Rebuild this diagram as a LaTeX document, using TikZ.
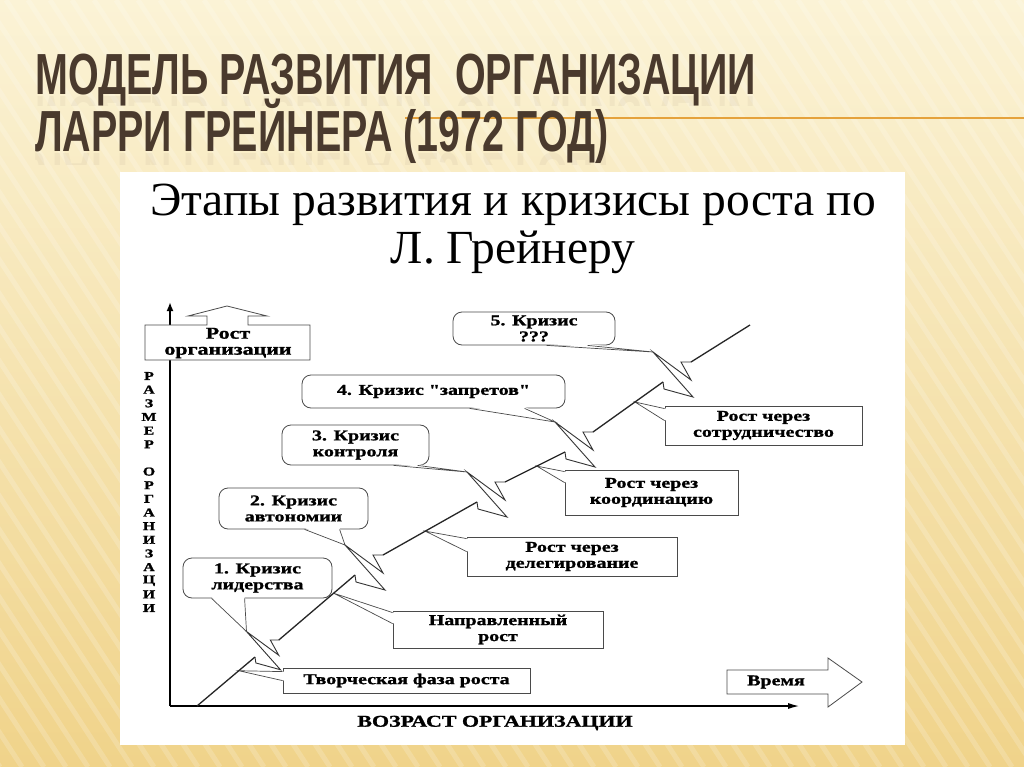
\documentclass[tikz,border=0pt]{standalone}
\usepackage{fontspec}
\usetikzlibrary{calc,arrows.meta}
\newfontfamily\ttl{Liberation Sans}[FakeStretch=0.68]
\newfontfamily\srf{Liberation Serif}
\newfontfamily\bx{Liberation Serif}[FakeStretch=1.33,BoldFeatures={FakeBold=1.2}]
\definecolor{titlecol}{HTML}{4A3A2D}
\definecolor{orangeline}{HTML}{E5A23C}
\definecolor{bgtop}{HTML}{FBF3D6}
\definecolor{bgmid}{HTML}{F8E8B9}
\definecolor{bgbot}{HTML}{F0D38A}
\definecolor{boxline}{HTML}{4A4A4A}
\tikzset{
  bolt/.pic={
    \draw[boltline] (0,0) -- (1,7) -- (30,15) -- (-10,-30) -- (28,-2) -- (18,-20) -- (28,-20);
    \coordinate (-U) at (28,-20);
    \coordinate (-B) at (-10,-30);
  }
}
\begin{document}
\begin{tikzpicture}[x=1pt,y=-1pt,
  ttlstyle/.style={font=\ttl\bfseries\fontsize{58}{60}\selectfont, text=titlecol, inner sep=0pt},
  phase/.style={draw=boxline, line width=0.8pt, fill=white, inner sep=0pt, align=center, font=\bx\bfseries\fontsize{15}{16}\selectfont},
  crisis/.style={phase, rounded corners=9pt},
  growth/.style={line width=1.3pt, black!85},
  boltline/.style={line width=0.9pt, black!80, line join=miter},
  ptr/.style={line width=0.7pt, boxline},
  axis/.style={line width=1.8pt, black},
  lbl/.style={font=\bx\bfseries\fontsize{15}{16}\selectfont, inner sep=0pt},
  vlbl/.style={font=\bx\bfseries\fontsize{12}{12}\selectfont, inner sep=0pt}
]
\useasboundingbox (0,0) rectangle (1024,767);
% background
\shade[top color=bgtop, middle color=bgmid, bottom color=bgbot] (0,0) rectangle (1024,767);
\begin{scope}
\clip (0,0) rectangle (1024,767);
\foreach \k in {0,...,75}
  \draw[white, opacity=0.18, line width=5pt] ({-500+\k*22},0) -- ++(500,767);
\end{scope}
% title
\draw[orangeline, line width=2.5pt] (405,118) -- (1024,118);
\begin{scope}
\clip (0,96) rectangle (1024,106);
\node[ttlstyle, anchor=base west, opacity=0.05, yscale=-1, transform shape] (t1r) at (35,97) {МОДЕЛЬ РАЗВИТИЯ\ \ ОРГАНИЗАЦИИ};
\end{scope}
\begin{scope}
\clip (0,153) rectangle (1024,165);
\node[ttlstyle, anchor=base west, opacity=0.05, yscale=-1, transform shape] (t2r) at (35,154) {ЛАРРИ ГРЕЙНЕРА (1972 ГОД)};
\end{scope}
\node[ttlstyle, anchor=base west] (t1) at (35,95) {МОДЕЛЬ РАЗВИТИЯ\ \ ОРГАНИЗАЦИИ};
\node[ttlstyle, anchor=base west] (t2) at (35,152) {ЛАРРИ ГРЕЙНЕРА (1972 ГОД)};
% white panel
\fill[white] (120,172) rectangle (905,745);
\node[font=\srf\fontsize{47.5}{50}\selectfont, anchor=base, inner sep=0pt] (sub1) at (513,216) {Этапы развития и кризисы роста по};
\node[font=\srf\fontsize{47.5}{50}\selectfont, anchor=base, inner sep=0pt] (sub2) at (513,263) {Л. Грейнеру};
% axes
\coordinate (O) at (170,706);
\coordinate (Ytop) at (170,302);
\coordinate (Xend) at (800,706);
\draw[axis, -{Latex[length=9pt,width=7pt]}] (O) -- (Ytop);
\draw[axis, -{Latex[length=12pt,width=6pt]}] (O) -- (Xend);
% growth box with up arrow
\draw[boxline, line width=0.8pt, fill=white] (145,325) -- (207,325) -- (207,316) -- (188,316) -- (227,306) -- (267,316) -- (248,316) -- (248,325) -- (310,325) -- (310,360) -- (145,360) -- cycle;
\node[font=\bx\bfseries\fontsize{16.5}{16}\selectfont, inner sep=0pt, align=center] (rost) at (228,343) {Рост\\организации};
% vertical label
\foreach \l [count=\i] in {Р,А,З,М,Е,Р,{},О,Р,Г,А,Н,И,З,А,Ц,И,И}
  \node[vlbl] (v\i) at (149,{376+(\i-1)*13.65}) {\l};
% x label
\node[font=\bx\bfseries\fontsize{16.5}{17}\selectfont, inner sep=0pt] (xl) at (495,723) {ВОЗРАСТ ОРГАНИЗАЦИИ};
% time arrow
\draw[boxline, line width=0.8pt, fill=white] (727,670) -- (828,670) -- (828,658) -- (862,682) -- (828,707) -- (828,694) -- (727,694) -- cycle;
\node[lbl] (time) at (776,682) {Время};
% growth line anchor points
\coordinate (P0) at (197,706);
\coordinate (L1) at (255,657);
\coordinate (L2) at (355,575);
\coordinate (L3) at (477,502);
\coordinate (L4) at (565,452);
\coordinate (L5) at (663,382);
\coordinate (Pend) at (750,325);
\pic[scale=0.85] (b1) at (L1) {bolt};
\pic (b2) at (L2) {bolt};
\pic (b3) at (L3) {bolt};
\pic (b4) at (L4) {bolt};
\pic (b5) at (L5) {bolt};
% phase boxes
\node[phase, minimum width=247pt, minimum height=25pt] (pa) at (406.5,680.5) {Творческая фаза роста};
\node[phase, minimum width=210pt, minimum height=37pt] (pb) at (498,629.5) {Направленный\\рост};
\node[phase, minimum width=210pt, minimum height=39pt] (pc) at (572,556.5) {Рост через\\делегирование};
\node[phase, minimum width=173pt, minimum height=45pt] (pd) at (651.5,492.5) {Рост через\\координацию};
\node[phase, minimum width=197pt, minimum height=39pt] (pe) at (763.5,425.5) {Рост через\\сотрудничество};
\coordinate (ta) at ($(P0)!0.72!(L1)$);
\coordinate (tb) at ($(b1-U)!0.72!(L2)$);
\coordinate (tc) at ($(b2-U)!0.45!(L3)$);
\coordinate (td) at ($(b3-U)!0.53!(L4)$);
\coordinate (te) at ($(b4-U)!0.6!(L5)$);
\foreach \n/\t/\a/\b in {pa/ta/4/13, pb/tb/2/13, pc/tc/2/15, pd/td/2/13, pe/te/3/15}{
  \fill[white] ($(\n.north west)+(1.5,\a)$) -- (\t) -- ($(\n.north west)+(1.5,\b)$) -- cycle;
  \draw[ptr] ($(\n.north west)+(0,\a)$) -- (\t) -- ($(\n.north west)+(0,\b)$);
}
% crisis bubbles
\node[crisis, minimum width=149pt, minimum height=40pt] (c1) at (257.5,578) {1. Кризис\\лидерства};
\node[crisis, minimum width=149pt, minimum height=41pt] (c2) at (293.5,508.5) {2. Кризис\\автономии};
\node[crisis, minimum width=147pt, minimum height=40pt] (c3) at (355.5,445) {3. Кризис\\контроля};
\node[crisis, minimum width=263pt, minimum height=33pt] (c4) at (433.5,391.5) {4. Кризис "запретов"};
\node[crisis, minimum width=162pt, minimum height=33pt] (c5) at (534,328.5) {5. Кризис\\???};
\foreach \n/\t/\a/\b in {c1/b1-B/29/62, c2/b2-B/86/121, c3/b3-B/112/136, c4/b4-B/168/223, c5/b5-B/94/135}{
  \fill[white] ($(\n.south west)+(\a,-1.5)$) -- (\t) -- ($(\n.south west)+(\b,-1.5)$) -- cycle;
  \draw[ptr] ($(\n.south west)+(\a,0)$) -- (\t) -- ($(\n.south west)+(\b,0)$);
}
% growth line
\draw[growth] (P0) -- (L1);
\draw[growth] (b1-U) -- (L2);
\draw[growth] (b2-U) -- (L3);
\draw[growth] (b3-U) -- (L4);
\draw[growth] (b4-U) -- (L5);
\draw[growth] (b5-U) -- (Pend);
\end{tikzpicture}
\end{document}
